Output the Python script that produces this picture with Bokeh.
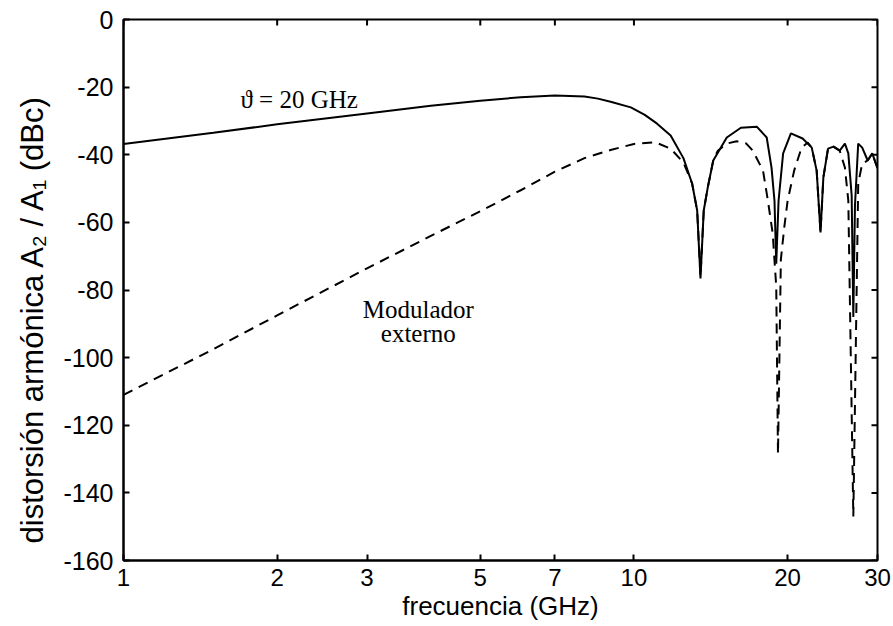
import math
from bokeh.plotting import figure
from bokeh.models import FixedTicker, Label, Range1d, Title
from bokeh.embed import file_html
from bokeh.resources import INLINE

# ---- data ----
freq_solid = [1.0, 1.5, 2.0, 3.0, 4.0, 5.0, 6.0, 7.0, 8.0, 8.5, 9.0, 9.86, 10.5, 11.1, 11.8,
              12.5, 13.0, 13.3, 13.5, 13.7, 13.95, 14.3, 15.2, 16.2, 17.4, 18.2, 18.6, 18.85,
              19.0, 19.2, 19.6, 20.3, 21.4, 22.3, 22.8, 23.2, 23.5, 24.0, 24.6, 25.3, 25.9,
              26.3, 26.7, 26.9, 27.1, 27.5, 28.0, 28.7, 29.3, 30.0]
db_solid = [-36.8, -33.5, -31.0, -27.8, -25.5, -24.0, -23.0, -22.5, -22.8, -23.4, -24.3, -26.0,
            -28.2, -30.8, -34.3, -41.0, -48.5, -56.5, -76.6, -56.5, -49.7, -41.7, -34.9, -32.0,
            -31.7, -34.9, -43.8, -53.6, -72.2, -53.6, -39.6, -33.7, -35.2, -37.9, -44.7, -63.0,
            -46.7, -38.2, -37.6, -38.8, -36.7, -39.6, -52.0, -88.0, -55.0, -36.7, -37.9, -41.7,
            -39.6, -44.0]

freq_dashed = [1.0, 1.5, 2.0, 3.0, 4.0, 5.0, 6.0, 7.0, 8.0, 9.0, 10.0, 11.0, 11.8, 12.5, 13.0,
               13.3, 13.5, 13.7, 13.95, 14.3, 14.6, 15.2, 15.9, 16.6, 17.1, 17.9, 18.3, 18.7,
               19.0, 19.15, 19.4, 19.7, 20.0, 20.6, 21.3, 21.9, 22.3, 22.8, 23.2, 23.5, 24.0,
               24.6, 25.3, 25.9, 26.3, 26.9, 27.5, 28.0, 28.7, 29.3, 30.0]
db_dashed = [-111.0, -97.5, -87.5, -73.6, -64.0, -56.7, -50.5, -45.0, -41.0, -38.6, -36.8, -36.3,
             -38.2, -42.3, -48.5, -56.5, -76.0, -56.5, -49.7, -41.7, -38.8, -36.7, -36.0, -36.7,
             -38.8, -44.7, -53.6, -63.3, -79.0, -128.5, -71.0, -61.5, -53.6, -44.7, -37.9, -36.4,
             -37.9, -44.7, -63.0, -46.7, -38.2, -37.6, -38.8, -43.8, -53.6, -147.0, -48.5, -42.6,
             -41.7, -39.6, -44.0]

x_limits = [1, 30]
y_limits = [-160, 0]
x_ticks = [1, 2, 3, 5, 7, 10, 20, 30]
x_tick_labels = ["1", "2", "3", "5", "7", "10", "20", "30"]
y_ticks = [0, -20, -40, -60, -80, -100, -120, -140, -160]
y_tick_labels = ["0", "-20", "-40", "-60", "-80", "-100", "-120", "-140", "-160"]

x_label = "frecuencia (GHz)"
y_label = "distorsión armónica  A\u2082 / A\u2081 (dBc)"
label_theta = "\u03d1 = 20 GHz"
label_mod_1 = "Modulador"
label_mod_2 = "externo"

SANS = "Liberation Sans"
SERIF = "Liberation Serif"

p = figure(width=893, height=626, x_axis_type="log",
           x_range=Range1d(*x_limits), y_range=Range1d(*y_limits),
           output_backend="svg", toolbar_location=None,
           min_border_left=123, min_border_right=16,
           min_border_top=19, min_border_bottom=66,
           background_fill_color="white", border_fill_color="white")

p.grid.visible = False
p.outline_line_color = "black"
p.outline_line_width = 2

p.line(freq_solid, db_solid, line_color="black", line_width=2)
p.line(freq_dashed, db_dashed, line_color="black", line_width=2, line_dash="10 7")

# mirrored inward ticks on the top and right edges (clipped to the frame)
p.scatter(x_ticks, [y_limits[1]] * len(x_ticks), marker="dash", size=12,
          angle=math.pi / 2, line_color="black", line_width=2)
p.scatter([x_limits[1]] * len(y_ticks), y_ticks, marker="dash", size=12,
          line_color="black", line_width=2)

def style_axis(ax, ticks, labels, font_size):
    ax.ticker = FixedTicker(ticks=ticks)
    ax.major_label_overrides = {t: l for t, l in zip(ticks, labels)}
    ax.major_tick_in = 6
    ax.major_tick_out = 0
    ax.major_tick_line_width = 2
    ax.major_tick_line_color = "black"
    ax.minor_tick_line_color = None
    ax.axis_line_color = "black"
    ax.axis_line_width = 2
    ax.major_label_text_font = SANS
    ax.major_label_text_color = "black"
    ax.major_label_text_font_size = font_size

xa = p.xaxis[0]
style_axis(xa, x_ticks, x_tick_labels, "24px")
xa.major_label_standoff = 8
xa.axis_label = x_label
xa.axis_label_text_font = SANS
xa.axis_label_text_font_size = "26px"
xa.axis_label_text_font_style = "normal"
xa.axis_label_text_color = "black"
xa.axis_label_standoff = 2

ya = p.yaxis[0]
style_axis(ya, y_ticks, y_tick_labels, "25px")
ya.major_label_standoff = 10

# y axis title as a side title, starting a little above the frame bottom
ytitle = Title(text=y_label, align="left", offset=17, standoff=22,
               text_font=SANS, text_font_size="31px", text_font_style="normal",
               text_color="black")
p.add_layout(ytitle, "left")

p.add_layout(Label(x=1.695, y=-23.8, text=label_theta, text_font=SERIF,
                   text_font_size="25px", text_color="black",
                   text_align="left", text_baseline="alphabetic"))
p.add_layout(Label(x=3.78, y=-85.8, text=label_mod_1, text_font=SERIF,
                   text_font_size="25px", text_color="black",
                   text_align="center", text_baseline="alphabetic"))
p.add_layout(Label(x=3.78, y=-92.9, text=label_mod_2, text_font=SERIF,
                   text_font_size="25px", text_color="black",
                   text_align="center", text_baseline="alphabetic"))

open("out.html", "w").write(file_html(p, INLINE))
